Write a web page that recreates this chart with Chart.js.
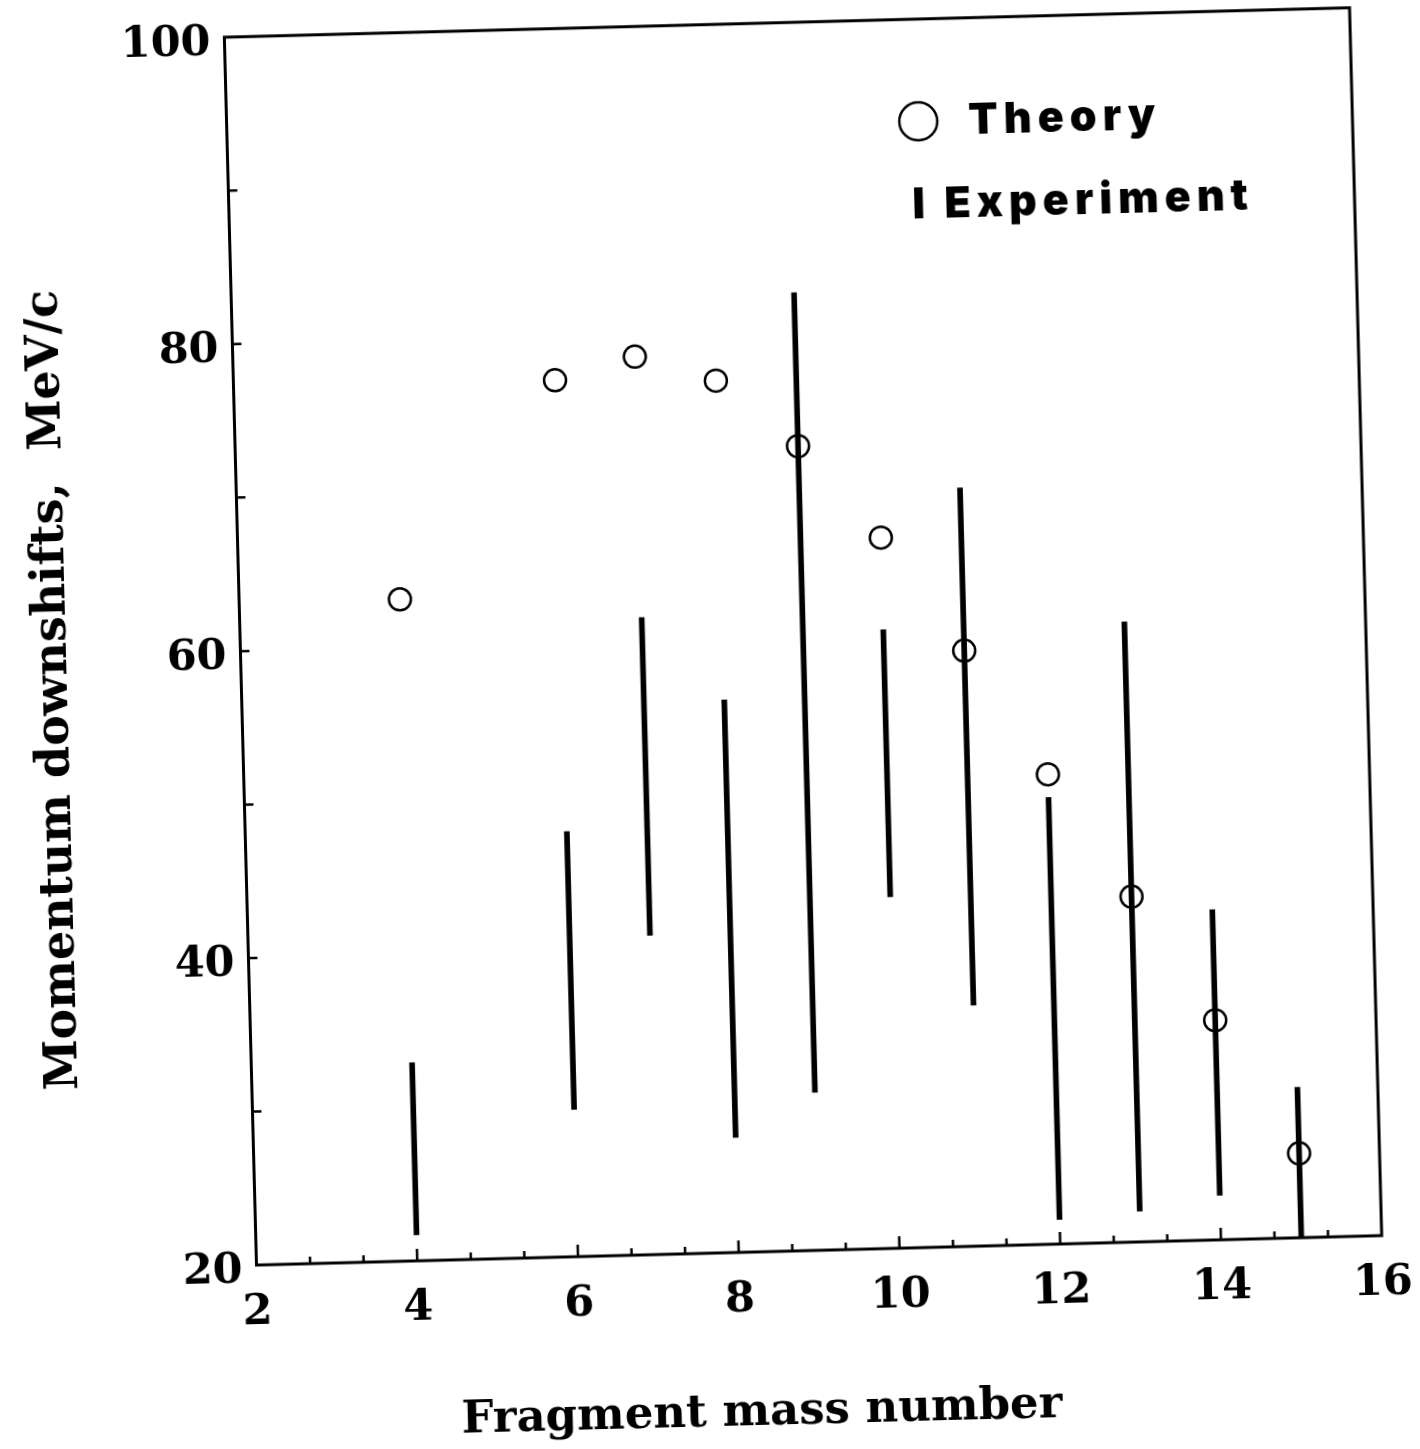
<!DOCTYPE html>
<html>
<head>
<meta charset="utf-8">
<script src="https://cdn.jsdelivr.net/npm/chart.js@4.4.1/dist/chart.umd.min.js"></script>
<style>
  html, body { margin: 0; padding: 0; background: #fff; overflow: hidden; }
  #wrap { width: 1420px; height: 1449px; transform: rotate(-1.5deg); transform-origin: 50% 50%; }
</style>
</head>
<body>
<div id="wrap"><canvas id="chart" width="1420" height="1449"></canvas></div>
<script>
// fragment mass numbers
const massTheory = [4, 6, 7, 8, 9, 10, 11, 12, 13, 14, 15];
const theoryValues = [63.1, 77.1, 78.5, 76.8, 72.4, 66.3, 58.8, 50.6, 42.5, 34.3, 25.5];

// experiment ranges (low / high)
const massExp = [4, 6, 7, 8, 9, 10, 11, 12, 13, 14, 15];
const expLow  = [21.7, 29.6, 40.8, 27.5, 30.3, 42.9, 35.7, 21.6, 22.0, 22.9, 20.0];
const expHigh = [32.9, 47.7, 61.5, 56.0, 82.4, 60.3, 69.4, 49.1, 60.4, 41.5, 29.8];

// axis ticks
const yTickValues = [30, 40, 50, 60, 70, 80, 90];
const xMajorTicks = [4, 6, 8, 10, 12, 14];
const xMinorTicks = [2.667, 3.333, 4.667, 5.333, 6.667, 7.333, 8.667, 9.333,
                     10.667, 11.333, 12.667, 13.333, 14.667, 15.333];

const serif = '"DejaVu Serif", serif';
const heavy = 'Inter, "DejaVu Sans", sans-serif';

// frame, inward ticks, titles and legend
const decorations = {
  id: 'decorations',
  afterDraw(chart) {
    const { ctx, chartArea: a, scales: { x, y } } = chart;
    ctx.save();
    ctx.strokeStyle = '#000';
    ctx.lineWidth = 3;
    ctx.strokeRect(a.left, a.top, a.right - a.left, a.bottom - a.top);

    ctx.lineWidth = 2.5;
    ctx.beginPath();
    yTickValues.forEach(v => {
      const py = y.getPixelForValue(v);
      ctx.moveTo(a.left, py);
      ctx.lineTo(a.left + 9, py);
    });
    xMajorTicks.forEach(v => {
      const px = x.getPixelForValue(v);
      ctx.moveTo(px, a.bottom);
      ctx.lineTo(px, a.bottom - 12);
    });
    xMinorTicks.forEach(v => {
      const px = x.getPixelForValue(v);
      ctx.moveTo(px, a.bottom);
      ctx.lineTo(px, a.bottom - 7);
    });
    ctx.stroke();

    // axis titles
    ctx.fillStyle = '#000';
    ctx.textAlign = 'center';
    ctx.textBaseline = 'middle';
    ctx.font = 'bold 45px ' + serif;
    ctx.fillText('Fragment mass number', 744, 1414);
    ctx.save();
    ctx.translate(56, 673);
    ctx.rotate(-Math.PI / 2);
    ctx.font = 'bold 46px ' + serif;
    ctx.fillText('Momentum downshifts,  MeV/c', 0, 0);
    ctx.restore();

    // legend
    ctx.lineWidth = 2.5;
    ctx.beginPath();
    ctx.arc(934, 127, 19, 0, Math.PI * 2);
    ctx.stroke();
    ctx.font = '900 43px ' + heavy;
    ctx.textAlign = 'left';
    ctx.letterSpacing = '6px';
    ctx.fillText('Theory', 984, 128);
    ctx.fillText('I', 926, 211);
    ctx.fillText('Experiment', 958, 211);
    ctx.restore();
  }
};

new Chart(document.getElementById('chart'), {
  type: 'scatter',
  data: {
    datasets: [
      {
        type: 'bar',
        label: 'Experiment',
        data: massExp.map((m, i) => ({ x: m, y: [expLow[i], expHigh[i]] })),
        backgroundColor: '#000',
        borderWidth: 0,
        barThickness: 5
      },
      {
        type: 'scatter',
        label: 'Theory',
        data: massTheory.map((m, i) => ({ x: m, y: theoryValues[i] })),
        pointStyle: 'circle',
        pointRadius: 11,
        pointBorderWidth: 2.5,
        borderColor: '#000',
        backgroundColor: 'rgba(0,0,0,0)'
      }
    ]
  },
  options: {
    responsive: false,
    animation: false,
    layout: { padding: { left: 0, top: 22, right: 50, bottom: 0 } },
    plugins: { legend: { display: false }, tooltip: { enabled: false } },
    scales: {
      x: {
        type: 'linear',
        min: 2, max: 16,
        offset: false,
        grid: { display: false, drawTicks: false, offset: false },
        border: { display: false },
        ticks: {
          stepSize: 2,
          padding: 22,
          color: '#000',
          font: { family: serif, size: 43, weight: 'bold' }
        },
        afterFit(s) { s.height = 196; }
      },
      y: {
        type: 'linear',
        min: 20, max: 100,
        grid: { display: false, drawTicks: false },
        border: { display: false },
        ticks: {
          stepSize: 10,
          padding: 14,
          labelOffset: 6,
          color: '#000',
          font: { family: serif, size: 43, weight: 'bold', lineHeight: 0.5 },
          callback: v => (v % 20 === 0 ? v : '')
        },
        afterFit(s) { s.width = 242.5; }
      }
    }
  },
  plugins: [decorations]
});
</script>
</body>
</html>
